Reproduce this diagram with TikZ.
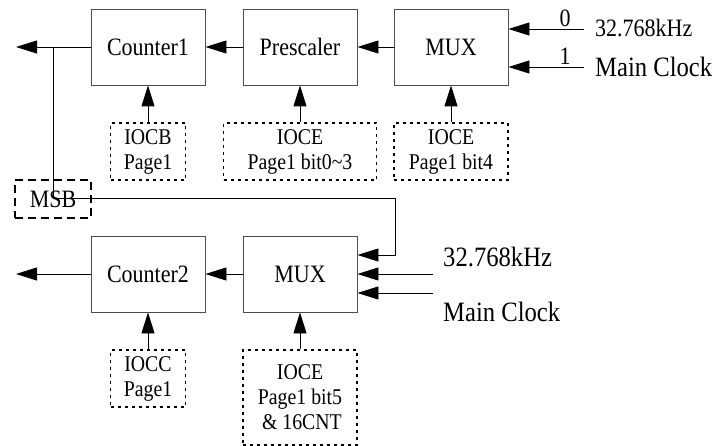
\documentclass[tikz,border=0pt]{standalone}
\usepackage{fontspec}
\setmainfont{Liberation Serif}[FakeStretch=0.88]
\usetikzlibrary{arrows.meta}
\tikzset{
    blk/.style={draw=black!70, line width=0.9pt, minimum width=114pt, minimum height=76pt, inner sep=0pt, font=\fontsize{25}{29}\selectfont},
    reg/.style={draw, line width=1.9pt, dash pattern=on 3pt off 4pt, inner sep=0pt, align=center, font=\fontsize{22.5}{25}\selectfont},
    msbbox/.style={draw, line width=1.8pt, dash pattern=on 8pt off 5pt, minimum width=76pt, minimum height=38pt, inner sep=0pt, font=\fontsize{25}{29}\selectfont},
    arr/.style={line width=0.9pt, -{Triangle[length=21pt,width=13pt]}},
    lbl/.style={anchor=west, inner sep=0pt, font=\fontsize{28}{32}\selectfont}
}
\begin{document}
\begin{tikzpicture}[x=1pt,y=-1pt]
    \useasboundingbox (0,0) rectangle (717,446);
    % upper chain
    \node[blk] (cnt1) at (148,47) {Counter1};
    \node[blk] (pre) at (300,47) {Prescaler};
    \node[blk] (mux1) at (451,47) {MUX};
    \node[reg, minimum width=75pt, minimum height=57pt] (regb) at (148,151.5) {IOCB\\Page1};
    \node[reg, minimum width=153pt, minimum height=57pt] (rege1) at (300,151.5) {IOCE\\Page1 bit0\char`~3};
    \node[reg, minimum width=114pt, minimum height=57pt] (rege2) at (451,151.5) {IOCE\\Page1 bit4};
    \draw[arr] (regb) -- (cnt1);
    \draw[arr] (rege1) -- (pre);
    \draw[arr] (rege2) -- (mux1);
    \draw[arr] (mux1) -- (pre);
    \draw[arr] (pre) -- (cnt1);
    \coordinate (out1) at (16,47);
    \draw[arr] (cnt1) -- (out1);
    \coordinate (ck0) at (584,29);
    \coordinate (ck1) at (584,67);
    \draw[arr] (ck0) -- (ck0 -| mux1.east);
    \draw[arr] (ck1) -- (ck1 -| mux1.east);
    \node[font=\fontsize{25}{29}\selectfont, inner sep=0pt] (sel0) at (565,18) {0};
    \node[font=\fontsize{25}{29}\selectfont, inner sep=0pt] (sel1) at (565,56) {1};
    \node[lbl, font=\fontsize{25}{29}\selectfont] (fa) at (595,28) {32.768kHz};
    \node[lbl] (fb) at (595,67) {Main Clock};

    % lower chain
    \node[blk] (cnt2) at (148,274) {Counter2};
    \node[blk] (mux2) at (300,274) {MUX};
    \node[reg, minimum width=75pt, minimum height=57pt] (regc) at (148,378.5) {IOCC\\Page1};
    \node[reg, minimum width=114pt, minimum height=95pt] (rege3) at (300,397.5) {IOCE\\Page1 bit5\\\,\& 16CNT};
    \draw[arr] (regc) -- (cnt2);
    \draw[arr] (rege3) -- (mux2);
    \draw[arr] (mux2) -- (cnt2);
    \coordinate (out2) at (16,274);
    \draw[arr] (cnt2) -- (out2);
    \coordinate (ck2) at (433,274);
    \coordinate (ck3) at (433,293);
    \draw[arr] (ck2) -- (ck2 -| mux2.east);
    \draw[arr] (ck3) -- (ck3 -| mux2.east);
    \node[lbl] (fc) at (443,257) {32.768kHz};
    \node[lbl] (fd) at (443,312) {Main Clock};

    % MSB feedback
    \node[msbbox] (msb) at (53,199) {MSB};
    \coordinate (j) at (53,47);
    \coordinate (bend) at (395,198);
    \draw[line width=0.9pt] (j) |- (bend);
    \draw[arr] (bend) |- (mux2.east |- 0,255);
\end{tikzpicture}
\end{document}
